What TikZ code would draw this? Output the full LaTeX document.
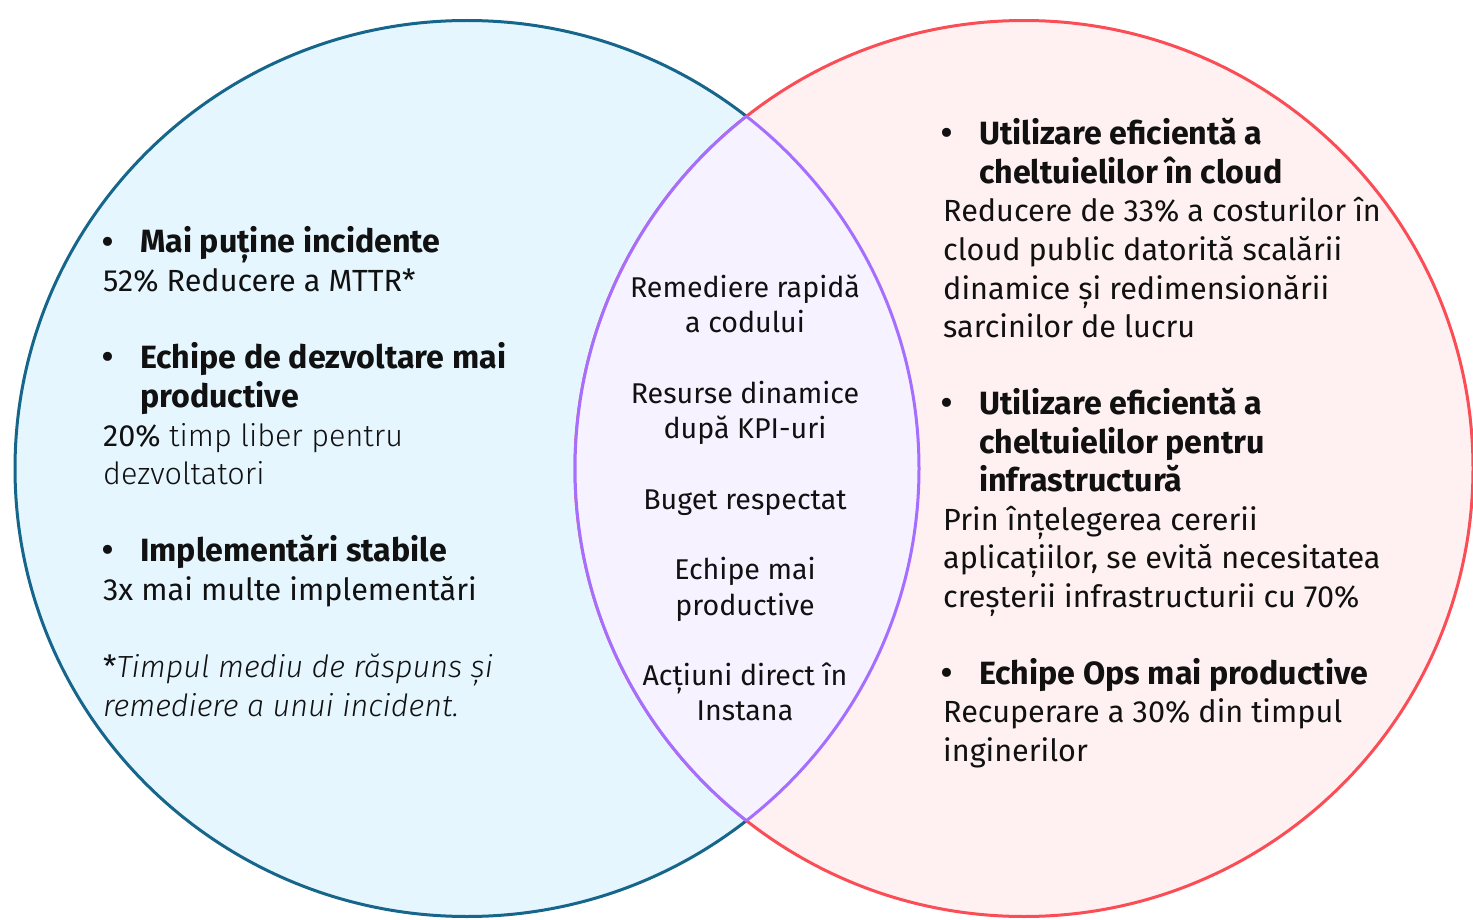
\documentclass[tikz,border=0pt]{standalone}
\usepackage{fontspec}
\setmainfont{Fira Sans}
\newfontfamily\lightfont{Fira Sans Light}
\definecolor{leftfill}{HTML}{E5F6FF}
\definecolor{leftline}{HTML}{16658A}
\definecolor{rightfill}{HTML}{FFF0F1}
\definecolor{rightline}{HTML}{FA4D56}
\definecolor{lensfill}{HTML}{F6F2FF}
\definecolor{lensline}{HTML}{A56EFF}
\definecolor{txt}{HTML}{111111}
\begin{document}
\begin{tikzpicture}[x=1pt,y=-1pt,
  every node/.style={inner sep=0pt, text=txt},
  side/.style={anchor=base west, font=\fontsize{30.6}{36}\selectfont},
  lite/.style={anchor=base west, font=\fontsize{30.6}{36}\selectfont\lightfont},
  liteit/.style={anchor=base west, font=\fontsize{30.6}{36}\selectfont\lightfont\itshape},
  head/.style={anchor=base west, font=\fontsize{32.2}{36}\selectfont\bfseries},
  bul/.style={anchor=base west, font=\fontsize{40}{36}\selectfont},
  mid/.style={anchor=base, font=\fontsize{28.6}{32}\selectfont},
  ring/.style={line width=3pt}]
\useasboundingbox (0,0) rectangle (1473,920);
\coordinate (L) at (467,468.5);
\coordinate (R) at (1024,468.5);
% circles
\fill[leftfill] (L) ellipse [x radius=452pt, y radius=448pt];
\draw[ring, leftline] (L) ellipse [x radius=452pt, y radius=448pt];
\fill[rightfill] (R) ellipse [x radius=449pt, y radius=448pt];
\draw[ring, rightline] (R) ellipse [x radius=449pt, y radius=448pt];
% lens
\begin{scope}
  \clip (L) ellipse [x radius=452pt, y radius=448pt];
  \fill[lensfill] (R) ellipse [x radius=449pt, y radius=448pt];
  \draw[ring, lensline] (R) ellipse [x radius=449pt, y radius=448pt];
\end{scope}
\begin{scope}
  \clip (R) ellipse [x radius=449pt, y radius=448pt];
  \draw[ring, lensline] (L) ellipse [x radius=452pt, y radius=448pt];
\end{scope}
% left texts
\node[bul] (lb1) at (101,255) {•};
\node[head] (l1) at (140,253) {Mai puține incidente};
\node[side] (l2) at (103,291.6) {52\% Reducere a MTTR*};
\node[bul] (lb2) at (101,370.8) {•};
\node[head] (l3) at (140,368.8) {Echipe de dezvoltare mai};
\node[head] (l4) at (140,407.4) {productive};
\node[side] (l5) at (103,446) {20\%{\lightfont{} timp liber pentru}};
\node[lite] (l6) at (103,484.6) {dezvoltatori};
\node[bul] (lb3) at (101,563.8) {•};
\node[head] (l7) at (140,561.8) {Implementări stabile};
\node[side] (l8) at (103,600.4) {3x mai multe implementări};
\node[liteit] (l9) at (103,677.6) {{\normalfont\fontsize{30.6}{36}\selectfont *}Timpul mediu de răspuns și};
\node[liteit] (l10) at (103,716.2) {remediere a unui incident.};
% center texts
\node[mid] (c1) at (745,297.3) {Remediere rapidă};
\node[mid] (c2) at (745,332.6) {a codului};
\node[mid] (c3) at (745,403.2) {Resurse dinamice};
\node[mid] (c4) at (745,438.5) {după KPI-uri};
\node[mid] (c5) at (745,509.1) {Buget respectat};
\node[mid] (c6) at (745,579.7) {Echipe mai};
\node[mid] (c7) at (745,615) {productive};
\node[mid] (c8) at (745,685.6) {Acțiuni direct în};
\node[mid] (c9) at (745,720.9) {Instana};
% right texts
\node[bul] (rb1) at (940,147) {•};
\node[head] (r1) at (979,145) {Utilizare eficientă a};
\node[head] (r2) at (979,183.5) {cheltuielilor în cloud};
\node[side] (r3) at (943,222) {Reducere de 33\% a costurilor în};
\node[side] (r4) at (943,260.5) {cloud public datorită scalării};
\node[side] (r5) at (943,299) {dinamice și redimensionării};
\node[side] (r6) at (943,337.5) {sarcinilor de lucru};
\node[bul] (rb2) at (940,416.5) {•};
\node[head] (r7) at (979,414.5) {Utilizare eficientă a};
\node[head] (r8) at (979,453) {cheltuielilor pentru};
\node[head] (r9) at (979,491.5) {infrastructură};
\node[side] (r10) at (943,530) {Prin înțelegerea cererii};
\node[side] (r11) at (943,568.5) {aplicațiilor, se evită necesitatea};
\node[side] (r12) at (943,607) {creșterii infrastructurii cu 70\%};
\node[bul] (rb3) at (940,686) {•};
\node[head] (r13) at (979,684) {Echipe Ops mai productive};
\node[side] (r14) at (943,722.5) {Recuperare a 30\% din timpul};
\node[side] (r15) at (943,761) {inginerilor};
\end{tikzpicture}
\end{document}
